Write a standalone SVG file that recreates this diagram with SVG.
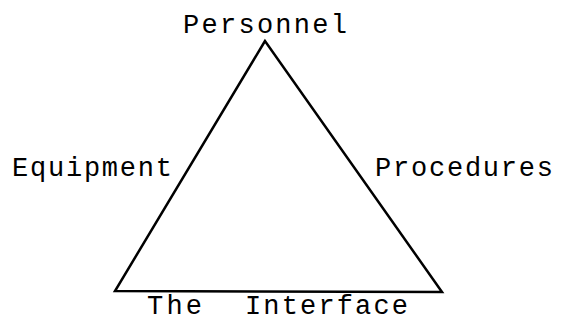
<svg xmlns="http://www.w3.org/2000/svg" width="565" height="322" viewBox="0 0 565 322">
<style>
text{font-family:"Liberation Mono","DejaVu Sans Mono",monospace;font-size:27px;fill:#000}
.edge{fill:none;stroke:#000;stroke-width:2.5;stroke-linejoin:miter}
</style>
<rect width="565" height="322" fill="#fff"/>
<g id="connectors">
<polygon class="edge" points="265,41 115,291 442,292"/>
</g>
<g id="personnel"><text x="183" y="33" textLength="164" lengthAdjust="spacing">Personnel</text></g>
<g id="equipment"><text x="12" y="176" textLength="160" lengthAdjust="spacing">Equipment</text></g>
<g id="procedures"><text x="375" y="176" textLength="178" lengthAdjust="spacing">Procedures</text></g>
<g id="interface"><text x="147" y="314" textLength="55" lengthAdjust="spacing">The</text><text x="245" y="314" textLength="163" lengthAdjust="spacing">Interface</text></g>
</svg>
